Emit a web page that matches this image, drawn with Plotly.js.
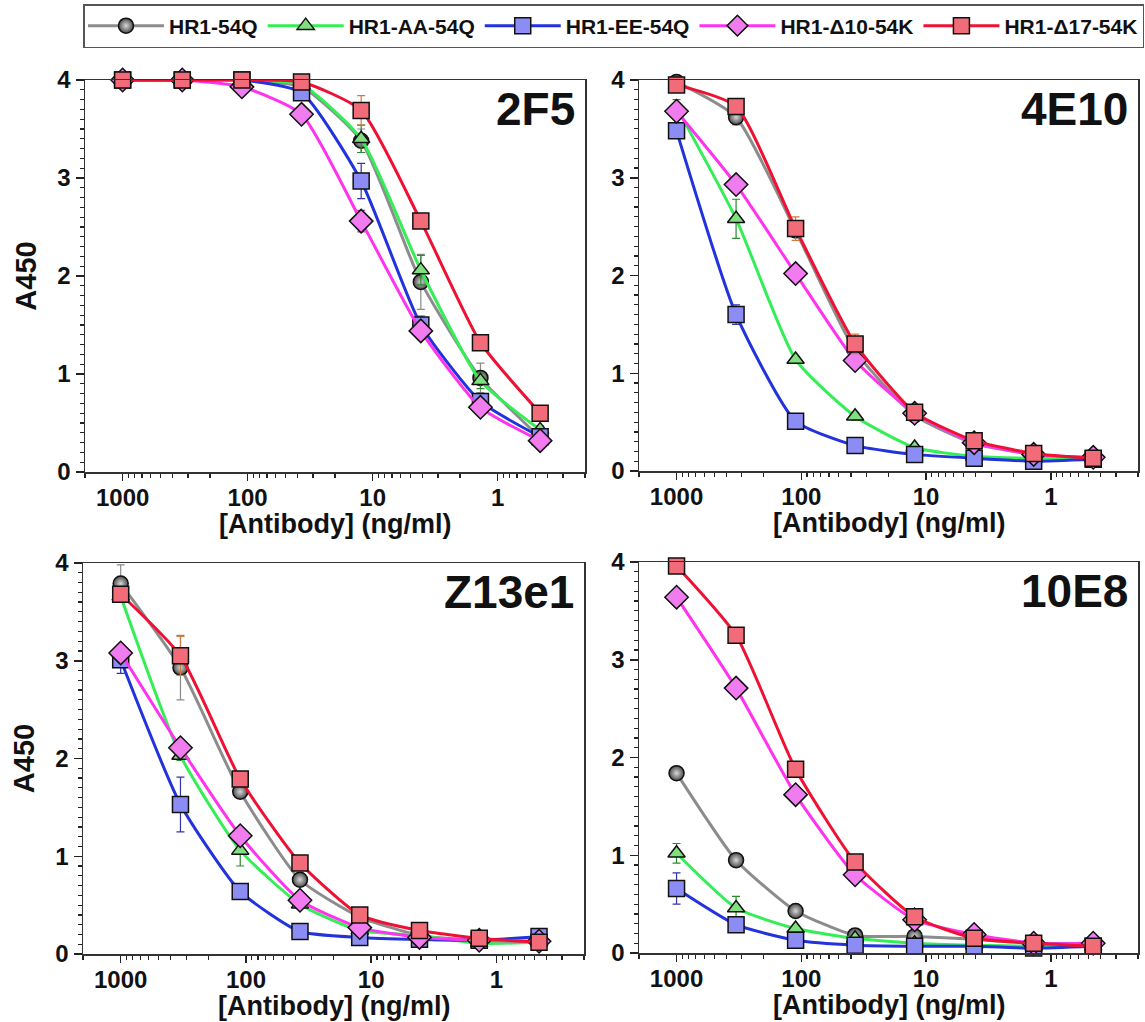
<!DOCTYPE html>
<html>
<head>
<meta charset="utf-8">
<script src="https://cdn.plot.ly/plotly-3.0.1.min.js"></script>
<style>html,body{margin:0;padding:0;background:#fff;}#chart{width:1145px;height:1022px;}</style>
</head>
<body>
<div id="chart"></div>
<script>
// Antibody concentrations (ng/ml), 3-fold dilution series
const conc = [1000, 333.3, 111.1, 37.04, 12.35, 4.115, 1.372, 0.457];
const seriesNames = ['HR1-54Q', 'HR1-AA-54Q', 'HR1-EE-54Q', 'HR1-\u039410-54K', 'HR1-\u039417-54K'];
const panelNames = ['2F5', '4E10', 'Z13e1', '10E8'];
const xTickVals = [1000, 100, 10, 1];
const xTickText = ['1000', '100', '10', '1'];
const yTickVals = [0, 1, 2, 3, 4];
const xTitle = '[Antibody] (ng/ml)';
const yTitle = 'A450';

// 2F5
const p2F5_54Q   = [4.00, 4.00, 4.00, 3.93, 3.38, 1.94, 0.96, 0.35];
const p2F5_AA    = [4.00, 4.00, 4.00, 3.95, 3.40, 2.06, 0.93, 0.43];
const p2F5_EE    = [4.00, 4.00, 4.00, 3.87, 2.97, 1.50, 0.72, 0.36];
const p2F5_D10   = [4.00, 4.00, 3.93, 3.65, 2.56, 1.44, 0.66, 0.32];
const p2F5_D17   = [4.00, 4.00, 4.00, 3.98, 3.69, 2.56, 1.32, 0.60];
const e2F5_54Q   = [0, 0, 0, 0, 0.12, 0.28, 0.15, 0.05];
const e2F5_AA    = [0, 0, 0, 0, 0.14, 0.15, 0.08, 0.04];
const e2F5_EE    = [0, 0, 0, 0, 0.18, 0.09, 0.05, 0.03];
const e2F5_D10   = [0, 0, 0, 0, 0.11, 0.05, 0.03, 0.03];
const e2F5_D17   = [0, 0, 0, 0, 0.15, 0.03, 0.03, 0.03];

// 4E10
const p4E10_54Q  = [3.98, 3.62, 2.46, 1.23, 0.57, 0.28, 0.17, 0.12];
const p4E10_AA   = [3.72, 2.58, 1.14, 0.56, 0.24, 0.15, 0.13, 0.14];
const p4E10_EE   = [3.48, 1.60, 0.51, 0.26, 0.17, 0.13, 0.10, 0.12];
const p4E10_D10  = [3.68, 2.93, 2.02, 1.13, 0.59, 0.29, 0.17, 0.14];
const p4E10_D17  = [3.95, 3.73, 2.48, 1.30, 0.60, 0.31, 0.18, 0.13];
const e4E10_54Q  = [0.03, 0.08, 0.05, 0.05, 0.02, 0.02, 0.02, 0.01];
const e4E10_AA   = [0.08, 0.20, 0.03, 0.04, 0.02, 0.01, 0.01, 0.01];
const e4E10_EE   = [0.05, 0.10, 0.03, 0.02, 0.01, 0.01, 0.01, 0.01];
const e4E10_D10  = [0.05, 0.08, 0.04, 0.03, 0.02, 0.01, 0.01, 0.01];
const e4E10_D17  = [0.03, 0.04, 0.12, 0.10, 0.03, 0.02, 0.01, 0.01];

// Z13e1
const pZ13_54Q   = [3.79, 2.93, 1.66, 0.76, 0.38, 0.19, 0.14, 0.12];
const pZ13_AA    = [3.66, 2.03, 1.06, 0.51, 0.24, 0.19, 0.11, 0.12];
const pZ13_EE    = [3.01, 1.53, 0.64, 0.23, 0.17, 0.15, 0.14, 0.18];
const pZ13_D10   = [3.08, 2.11, 1.21, 0.55, 0.27, 0.17, 0.14, 0.13];
const pZ13_D17   = [3.68, 3.05, 1.79, 0.93, 0.40, 0.24, 0.16, 0.12];
const eZ13_54Q   = [0.19, 0.33, 0.04, 0.03, 0.02, 0.02, 0.01, 0.01];
const eZ13_AA    = [0.05, 0.05, 0.16, 0.04, 0.02, 0.02, 0.01, 0.01];
const eZ13_EE    = [0.14, 0.28, 0.04, 0.02, 0.01, 0.01, 0.01, 0.01];
const eZ13_D10   = [0.08, 0.07, 0.05, 0.03, 0.02, 0.01, 0.01, 0.01];
const eZ13_D17   = [0.07, 0.20, 0.04, 0.03, 0.02, 0.02, 0.01, 0.01];

// 10E8
const p10E8_54Q  = [1.84, 0.95, 0.43, 0.18, 0.17, 0.14, 0.10, 0.10];
const p10E8_AA   = [1.02, 0.46, 0.25, 0.15, 0.10, 0.08, 0.07, 0.07];
const p10E8_EE   = [0.66, 0.29, 0.13, 0.08, 0.07, 0.07, 0.05, 0.07];
const p10E8_D10  = [3.64, 2.71, 1.62, 0.80, 0.34, 0.19, 0.10, 0.10];
const p10E8_D17  = [3.96, 3.25, 1.88, 0.93, 0.37, 0.15, 0.10, 0.07];
const e10E8_54Q  = [0.03, 0.03, 0.02, 0.02, 0.01, 0.01, 0.01, 0.01];
const e10E8_AA   = [0.10, 0.12, 0.03, 0.02, 0.01, 0.01, 0.01, 0.01];
const e10E8_EE   = [0.16, 0.04, 0.02, 0.01, 0.01, 0.01, 0.01, 0.01];
const e10E8_D10  = [0.04, 0.05, 0.05, 0.03, 0.02, 0.01, 0.01, 0.01];
const e10E8_D17  = [0.02, 0.06, 0.03, 0.03, 0.02, 0.01, 0.01, 0.01];

const panelValues = [
  [p2F5_54Q, p2F5_AA, p2F5_EE, p2F5_D10, p2F5_D17],
  [p4E10_54Q, p4E10_AA, p4E10_EE, p4E10_D10, p4E10_D17],
  [pZ13_54Q, pZ13_AA, pZ13_EE, pZ13_D10, pZ13_D17],
  [p10E8_54Q, p10E8_AA, p10E8_EE, p10E8_D10, p10E8_D17]
];
const panelErrors = [
  [e2F5_54Q, e2F5_AA, e2F5_EE, e2F5_D10, e2F5_D17],
  [e4E10_54Q, e4E10_AA, e4E10_EE, e4E10_D10, e4E10_D17],
  [eZ13_54Q, eZ13_AA, eZ13_EE, eZ13_D10, eZ13_D17],
  [e10E8_54Q, e10E8_AA, e10E8_EE, e10E8_D10, e10E8_D17]
];

// styles
const lineColors = ['#8c8c8c', '#33ee55', '#2233dd', '#ff33ee', '#ee1133'];
const markerFill = ['#4a4a4a', '#80e080', '#8c8cf5', '#f07cf0', '#f26b78'];
const errColors  = ['#8a8a8a', '#2a8a2a', '#3333aa', '#aa44aa', '#d07a40'];
const symbols    = ['circle', 'triangle-up', 'square', 'diamond', 'square'];
const msizes     = [15, 15, 16, 18, 16];

const W = 1145, H = 1022;
const FONT = 'Liberation Sans, Arial, sans-serif';
// pixel boxes of the four plot areas [left, right, top, bottom]
const boxes = [
  [85, 585, 80, 472],
  [639, 1138, 80, 471],
  [83, 584, 563, 954],
  [639, 1138, 562, 953]
];

const traces = [];
for (let p = 0; p < 4; p++) {
  const ax = p === 0 ? '' : String(p + 1);
  for (let s = 0; s < 5; s++) {
    const m = {
      symbol: symbols[s], size: msizes[s], color: markerFill[s],
      line: {color: '#111', width: 1.5}
    };
    if (s === 0) m.gradient = {type: 'radial', color: '#d8d8d8'};
    traces.push({
      type: 'scatter', mode: 'lines+markers',
      x: conc, y: panelValues[p][s],
      xaxis: 'x' + ax, yaxis: 'y' + ax,
      name: seriesNames[s], legendgroup: seriesNames[s], showlegend: p === 0,
      line: {color: lineColors[s], width: 3, shape: 'spline', smoothing: 0.55},
      marker: m,
      error_y: {type: 'data', array: panelErrors[p][s], visible: true,
                color: errColors[s], thickness: 1.2, width: 4},
      cliponaxis: false
    });
  }
}

const layout = {
  width: W, height: H,
  margin: {l: 0, r: 0, t: 0, b: 0},
  paper_bgcolor: '#fff', plot_bgcolor: '#fff',
  font: {family: FONT, color: '#111'},
  showlegend: true,
  legend: {
    orientation: 'h', x: 83 / W, xanchor: 'left', y: 1 - 4 / H, yanchor: 'top',
    bordercolor: '#555', borderwidth: 1.5, bgcolor: '#fff',
    font: {family: FONT, size: 21, weight: 'bold', color: '#111'},
    itemwidth: 76, tracegroupgap: 0
  },
  annotations: [],
  shapes: []
};

for (let p = 0; p < 4; p++) {
  const ax = p === 0 ? '' : String(p + 1);
  const b = boxes[p];
  const xd = [b[0] / W, b[1] / W];
  const yd = [1 - b[3] / H, 1 - b[2] / H];
  layout['xaxis' + ax] = {
    type: 'log', domain: xd, anchor: 'y' + ax,
    range: [Math.log10(2000), Math.log10(0.2)],
    tickmode: 'array', tickvals: xTickVals, ticktext: xTickText,
    ticks: 'outside', ticklen: 7, tickwidth: 1.5, tickcolor: '#222',
    ticklabelstandoff: -3,
    minor: {ticks: 'outside', ticklen: 4, tickwidth: 1.2, tickcolor: '#222',
            tickmode: 'array',
            tickvals: [2000, 900, 800, 700, 600, 500, 400, 300, 200, 90, 80, 70, 60, 50, 40, 30, 20,
                       9, 8, 7, 6, 5, 4, 3, 2, 0.9, 0.8, 0.7, 0.6, 0.5, 0.4, 0.3, 0.2]},
    showline: true, linecolor: '#333', linewidth: 1.5, mirror: true,
    showgrid: false, zeroline: false,
    tickfont: {family: FONT, size: 24, weight: 'bold', color: '#111'},
    title: {text: ''}
  };
  layout['yaxis' + ax] = {
    domain: yd, anchor: 'x' + ax, range: [0, 4],
    tickmode: 'array', tickvals: yTickVals,
    ticks: 'outside', ticklen: 8, tickwidth: 1.5, tickcolor: '#222',
    minor: {ticks: 'outside', ticklen: 4, tickwidth: 1.2, tickcolor: '#222', dtick: 0.1},
    showline: true, linecolor: '#333', linewidth: 1.5, mirror: true,
    showgrid: false, zeroline: false,
    tickfont: {family: FONT, size: 24, weight: 'bold', color: '#111'},
    title: (p % 2 === 0) ? {text: yTitle, standoff: 12,
            font: {family: FONT, size: 29, weight: 'bold', color: '#111'}} : {text: ''}
  };
  // x-axis title placed just under the tick labels
  layout.annotations.push({
    xref: 'paper', yref: 'paper', x: (b[0] + b[1]) / 2 / W, xanchor: 'center',
    y: 1 - (b[3] + 52) / H, yanchor: 'middle', showarrow: false,
    text: xTitle, font: {family: FONT, size: 27, weight: 'bold', color: '#111'}
  });
  // panel label
  layout.annotations.push({
    xref: 'paper', yref: 'paper', x: (b[1] - 8) / W, xanchor: 'right',
    y: 1 - (b[2] + 29) / H, yanchor: 'middle', showarrow: false,
    text: panelNames[p], font: {family: FONT, size: 46, weight: 'bold', color: '#111'}
  });
}

Plotly.newPlot('chart', traces, layout, {displayModeBar: false, staticPlot: true});
</script>
</body>
</html>
